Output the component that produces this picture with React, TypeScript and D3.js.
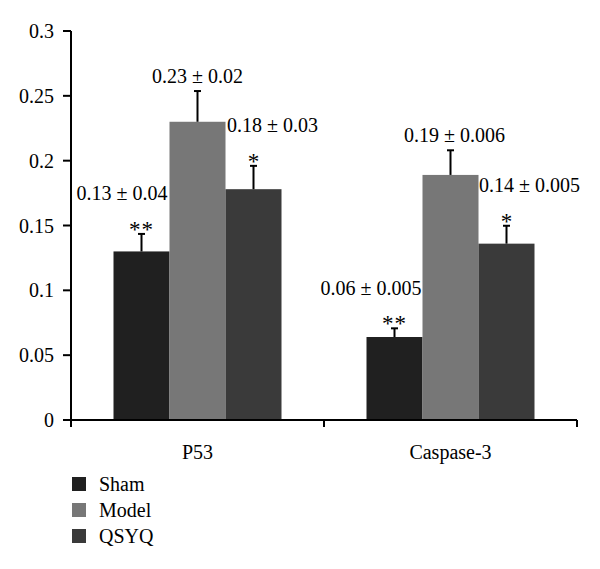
import React from "react";
import * as d3 from "d3";

const categories = ["P53", "Caspase-3"];
const groups = ["Sham", "Model", "QSYQ"];
const colors = ["#202020", "#777777", "#3a3a3a"];
// means per group, per category
const means: number[][] = [
  [0.13, 0.064],
  [0.23, 0.189],
  [0.178, 0.136],
];
// drawn error-bar sizes
const errors: number[][] = [
  [0.0135, 0.0067],
  [0.0237, 0.019],
  [0.018, 0.0138],
];
const valueLabels: string[][] = [
  ["0.13 ± 0.04", "0.06 ± 0.005"],
  ["0.23 ± 0.02", "0.19 ± 0.006"],
  ["0.18 ± 0.03", "0.14 ± 0.005"],
];
const stars: string[][] = [
  ["**", "**"],
  ["", ""],
  ["*", "*"],
];
const yTicks = [0, 0.05, 0.1, 0.15, 0.2, 0.25, 0.3];
const yTickLabels = ["0", "0.05", "0.1", "0.15", "0.2", "0.25", "0.3"];

const FONT = "'Liberation Serif', 'Times New Roman', serif";
const FS = 20;

// label position offsets (relative to bar centre) in px
const labelDx: number[][] = [
  [-19.5, -23.5],
  [0, 4],
  [19, 23],
];

export default function App() {
  const width = 600;
  const height = 569;
  const x0 = 71;
  const x1 = 577;
  const y = d3.scaleLinear().domain([0, 0.3]).range([420, 31]);
  const xBand = d3.scaleBand<string>().domain(categories).range([x0, x1]).padding(0);
  const bw = xBand.bandwidth();
  const xSub = d3
    .scaleBand<string>()
    .domain(groups)
    .range([bw / 2 - 84, bw / 2 + 84])
    .padding(0);
  const sw = xSub.bandwidth();

  return (
    <svg
      width={width}
      height={height}
      style={{ position: "absolute", left: 0, top: 0, background: "#fff" }}
      fontFamily={FONT}
    >
      <rect x={0} y={0} width={width} height={height} fill="#fff" />
      {/* bars */}
      {groups.map((g, gi) =>
        categories.map((c, ci) => {
          const bx = (xBand(c) as number) + (xSub(g) as number);
          const v = means[gi][ci];
          const top = y(v);
          const etop = y(v + errors[gi][ci]);
          const cx = bx + sw / 2;
          return (
            <g key={g + c}>
              <rect x={bx} y={top} width={sw} height={y(0) - top} fill={colors[gi]} />
              <line x1={cx} x2={cx} y1={top} y2={etop} stroke="#000" strokeWidth={2} />
              <line x1={cx - 3.5} x2={cx + 3.5} y1={etop} y2={etop} stroke="#000" strokeWidth={2} />
              {stars[gi][ci] && (
                <text
                  x={cx}
                  y={etop + 3}
                  textAnchor="middle"
                  fontSize={23}
                  letterSpacing={stars[gi][ci].length > 1 ? 1 : 0}
                >
                  {stars[gi][ci]}
                </text>
              )}
              <text
                x={cx + labelDx[gi][ci]}
                y={stars[gi][ci] ? etop - 33.5 : etop - 8}
                textAnchor="middle"
                fontSize={FS}
              >
                {valueLabels[gi][ci]}
              </text>
            </g>
          );
        })
      )}
      {/* y axis */}
      <line x1={x0} x2={x0} y1={y(0.3)} y2={427} stroke="#000" strokeWidth={2} />
      {yTicks.map((t, i) => (
        <g key={t}>
          <line x1={x0 - 8} x2={x0} y1={y(t)} y2={y(t)} stroke="#000" strokeWidth={2} />
          <text x={x0 - 17} y={y(t)} dy="0.35em" textAnchor="end" fontSize={FS}>
            {yTickLabels[i]}
          </text>
        </g>
      ))}
      {/* x axis */}
      <line x1={x0} x2={x1} y1={y(0)} y2={y(0)} stroke="#000" strokeWidth={2} />
      {[x0, ...categories.map((c) => (xBand(c) as number) + bw)].map((t) => (
        <line key={t} x1={t} x2={t} y1={y(0)} y2={427} stroke="#000" strokeWidth={2} />
      ))}
      {categories.map((c) => (
        <text
          key={c}
          x={(xBand(c) as number) + bw / 2}
          y={459}
          textAnchor="middle"
          fontSize={FS}
        >
          {c}
        </text>
      ))}
      {/* legend */}
      {groups.map((g, gi) => (
        <g key={g} transform={`translate(72, ${477 + gi * 26})`}>
          <rect x={0} y={0} width={14} height={14} fill={colors[gi]} />
          <text x={27} y={14} fontSize={FS}>
            {g}
          </text>
        </g>
      ))}
    </svg>
  );
}
